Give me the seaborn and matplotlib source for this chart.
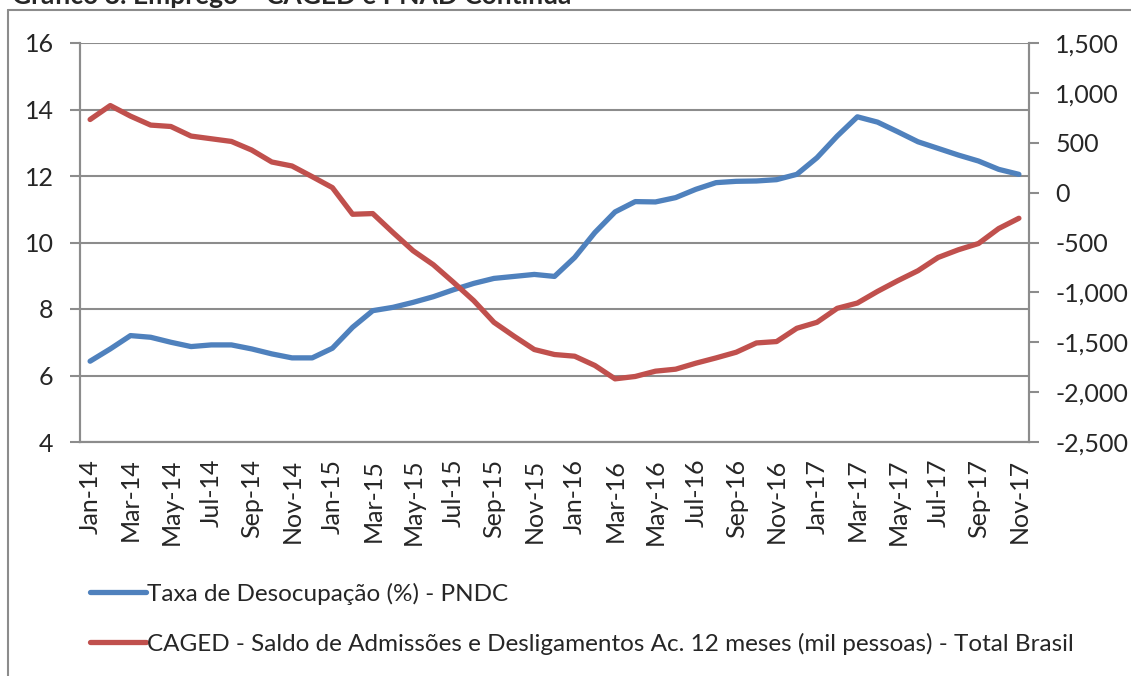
import pandas as pd
import matplotlib
matplotlib.use("Agg")
import matplotlib.pyplot as plt
import seaborn as sns
from matplotlib.lines import Line2D
from matplotlib.ticker import FuncFormatter, MultipleLocator

# data
months = pd.date_range("2014-01-01", periods=47, freq="MS").strftime("%b-%y").tolist()

taxa_desocupacao = [6.43, 6.8, 7.2, 7.15, 7.0, 6.87, 6.92, 6.92, 6.8, 6.65, 6.53, 6.53,
                    6.82, 7.45, 7.95, 8.05, 8.2, 8.37, 8.58, 8.77, 8.92, 8.98, 9.04, 8.98,
                    9.55, 10.3, 10.92, 11.23, 11.22, 11.35, 11.6, 11.8, 11.84, 11.85, 11.89, 12.05,
                    12.55, 13.2, 13.78, 13.62, 13.33, 13.03, 12.83, 12.63, 12.45, 12.2, 12.05]

caged_saldo = [733, 873, 767, 677, 663, 567, 540, 513, 427, 307, 267, 160,
               50, -217, -210, -400, -583, -723, -900, -1083, -1300, -1440, -1573, -1623,
               -1640, -1733, -1867, -1843, -1790, -1770, -1710, -1657, -1600, -1507, -1493, -1360,
               -1300, -1160, -1107, -990, -883, -783, -650, -573, -510, -360, -257]

label_taxa = "Taxa de Desocupação (%) - PNDC"
label_caged = "CAGED - Saldo de Admissões e Desligamentos Ac. 12 meses (mil pessoas) - Total Brasil"

df = pd.DataFrame({"idx": range(len(months)), "mes": months,
                   "taxa": taxa_desocupacao, "caged": caged_saldo})

sns.set_style("white")
plt.rcParams["font.family"] = ["Lato", "DejaVu Sans"]

BLUE = "#4F81BD"
RED = "#C0504D"
GRAY = "#8C8C8C"

fig = plt.figure(figsize=(11.31, 6.76), dpi=100)
ax = fig.add_axes([80 / 1131, 1 - 442 / 676, 949 / 1131, 399 / 676])
ax2 = ax.twinx()

sns.lineplot(data=df, x="idx", y="taxa", ax=ax, color=BLUE, linewidth=3.8,
             solid_capstyle="round", legend=False)
sns.lineplot(data=df, x="idx", y="caged", ax=ax2, color=RED, linewidth=3.8,
             solid_capstyle="round", legend=False)

# left axis
ax.set_ylim(4, 16)
ax.yaxis.set_major_locator(MultipleLocator(2))
ax.grid(axis="y", color=GRAY, linewidth=1.5)
ax.grid(axis="x", visible=False)
ax.set_axisbelow(True)

# right axis
ax2.set_ylim(-2500, 1500)
ax2.yaxis.set_major_locator(MultipleLocator(500))
ax2.yaxis.set_major_formatter(FuncFormatter(lambda v, p: f"{int(v):,}"))
ax2.grid(False)

# category axis: ticks between every second month, labels on every second month
ax.set_xlim(-0.5, len(months) - 0.5)
ax.set_xticks(range(0, len(months), 2))
ax.set_xticklabels(months[::2], rotation=90)
ax.set_xticks([i - 0.5 for i in range(0, len(months) + 1, 2)], minor=True)
ax.tick_params(axis="x", which="major", length=0, pad=12, labelsize=18)
ax.tick_params(axis="x", which="minor", length=7, width=1.5, color=GRAY, direction="out")
ax.tick_params(axis="y", length=7, width=1.5, color=GRAY, direction="out", pad=12, labelsize=18, left=True)
ax2.tick_params(axis="y", length=7, width=1.5, color=GRAY, direction="out", pad=12, labelsize=18, right=True)
ax.set_xlabel("")
ax.set_ylabel("")
ax2.set_ylabel("")

for a in (ax, ax2):
    for side in ("left", "right", "bottom"):
        a.spines[side].set_visible(True)
        a.spines[side].set_color(GRAY)
        a.spines[side].set_linewidth(1.5)
    a.spines["top"].set_visible(False)

# legend under the plot
handles = [Line2D([], [], color=BLUE, linewidth=3.8, solid_capstyle="round"),
           Line2D([], [], color=RED, linewidth=3.8, solid_capstyle="round")]
fig.legend(handles, [label_taxa, label_caged], loc="upper left",
           bbox_to_anchor=(80 / 1131, 1 - 573 / 676), frameon=False, fontsize=17.5,
           handlelength=2.3, handletextpad=0.05, labelspacing=1.15, borderaxespad=0)

# outer chart frame and title (cut at the top, as in the source)
fig.add_artist(Line2D([8 / 1131, 8 / 1131], [0, 1 - 10 / 676], color=GRAY, linewidth=1.5))
fig.add_artist(Line2D([8 / 1131, 1], [1 - 10 / 676, 1 - 10 / 676], color=GRAY, linewidth=1.5))
fig.text(12 / 1131, 1 - 4 / 676, "Gráfico 8: Emprego – CAGED e PNAD Contínua",
         fontsize=19, fontweight="bold", va="baseline", ha="left")

fig.savefig("out.png", dpi=100)
